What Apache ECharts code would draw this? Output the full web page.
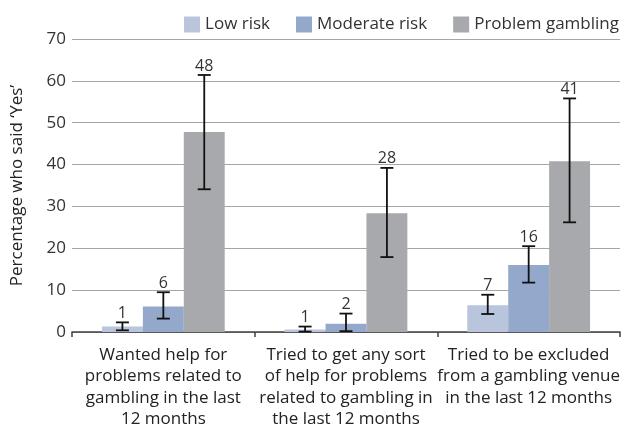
<!DOCTYPE html>
<html>
<head>
<meta charset="utf-8">
<script src="https://cdn.jsdelivr.net/npm/echarts@6/dist/echarts.min.js"></script>
<style>html,body{margin:0;padding:0;background:#fff}#c{width:630px;height:430px}</style>
</head>
<body>
<div id="c"></div>
<script>
const categories = [
  'Wanted help for\nproblems related to\ngambling in the last\n12 months',
  'Tried to get any sort\nof help for problems\nrelated to gambling in\nthe last 12 months',
  'Tried to be excluded\nfrom a gambling venue\nin the last 12 months'
];
const seriesNames = ['Low risk', 'Moderate risk', 'Problem gambling'];
const lowRisk = [1.3, 0.6, 6.4];
const moderateRisk = [6.1, 2.0, 16.0];
const problemGambling = [47.8, 28.4, 40.8];
const lowRiskErrLow = [0.4, 0.1, 4.3];
const lowRiskErrHigh = [2.3, 1.3, 8.9];
const moderateRiskErrLow = [3.2, 0.2, 11.8];
const moderateRiskErrHigh = [9.5, 4.4, 20.5];
const problemGamblingErrLow = [34.1, 17.9, 26.2];
const problemGamblingErrHigh = [61.4, 39.2, 55.8];
const lowRiskLabels = ['1', '1', '7'];
const moderateRiskLabels = ['6', '2', '16'];
const problemGamblingLabels = ['48', '28', '41'];
const yTicks = [0, 10, 20, 30, 40, 50, 60, 70];

const colors = ['#b9c5dc', '#93a8cb', '#a8a9ac'];
const FONT = 'Open Sans';
const BAR_FRAC = 0.224;

const values = [lowRisk, moderateRisk, problemGambling];
const errLows = [lowRiskErrLow, moderateRiskErrLow, problemGamblingErrLow];
const errHighs = [lowRiskErrHigh, moderateRiskErrHigh, problemGamblingErrHigh];
const labels = [lowRiskLabels, moderateRiskLabels, problemGamblingLabels];

function makeRender(si) {
  return function (params, api) {
    const ci = api.value(0);
    const lo = api.value(1);
    const hi = api.value(2);
    const v = api.value(3);
    const band = api.size([1, 0])[0];
    const bw = band * BAR_FRAC;
    const cx = api.coord([ci, 0])[0] + (si - 1) * bw;
    const yl = api.coord([ci, lo])[1];
    const yh = api.coord([ci, hi])[1];
    const yv = api.coord([ci, v])[1];
    const top = Math.min(yh, yv);
    const cap = 6.5;
    const st = { stroke: '#111', lineWidth: 1.8 };
    return {
      type: 'group',
      children: [
        { type: 'line', shape: { x1: cx, y1: yl, x2: cx, y2: yh }, style: st },
        { type: 'line', shape: { x1: cx - cap, y1: yh, x2: cx + cap, y2: yh }, style: st },
        { type: 'line', shape: { x1: cx - cap, y1: yl, x2: cx + cap, y2: yl }, style: st },
        { type: 'text', x: cx, y: top - 1, style: {
            text: labels[si][params.dataIndex], fill: '#333', font: '16px "' + FONT + '"',
            textAlign: 'center', textVerticalAlign: 'bottom' } }
      ]
    };
  };
}

const series = [];
for (let s = 0; s < 3; s++) {
  series.push({
    name: seriesNames[s], type: 'bar', data: values[s],
    barWidth: (BAR_FRAC * 100) + '%', barGap: '0%',
    itemStyle: { color: colors[s] }, emphasis: { disabled: true }
  });
}
for (let s = 0; s < 3; s++) {
  series.push({
    type: 'custom', name: seriesNames[s] + ' err',
    renderItem: makeRender(s),
    encode: { x: 0, y: [1, 2] },
    data: categories.map((c, i) => [i, errLows[s][i], errHighs[s][i], values[s][i]]),
    z: 10, silent: true
  });
}

const chart = echarts.init(document.getElementById('c'), null, { renderer: 'canvas' });
chart.setOption({
  animation: false,
  textStyle: { fontFamily: FONT },
  legend: {
    data: seriesNames, right: 6, top: 11, icon: 'rect',
    itemWidth: 16, itemHeight: 16, itemGap: 26,
    textStyle: { fontSize: 17, color: '#333', fontFamily: FONT }
  },
  grid: { left: 72, right: 10, top: 39, bottom: 97 },
  xAxis: {
    type: 'category', data: categories,
    axisLine: { lineStyle: { color: '#404040', width: 1.5 } },
    axisTick: { show: true, length: 5, lineStyle: { color: '#404040', width: 1.5 } },
    axisLabel: { interval: 0, fontSize: 17, lineHeight: 21.5, margin: 12, color: '#222', fontFamily: FONT }
  },
  yAxis: {
    type: 'value', min: 0, max: 70, interval: 10,
    name: 'Percentage who said \u2018Yes\u2019', nameLocation: 'middle', nameRotate: 90, nameGap: 46,
    nameTextStyle: { fontSize: 17, color: '#222', fontFamily: FONT },
    axisLine: { show: false }, axisTick: { show: false },
    axisLabel: { fontSize: 17, color: '#333', margin: 6, fontFamily: FONT,
      formatter: v => yTicks.includes(v) ? String(v) : '' },
    splitLine: { lineStyle: { color: '#a6a6a6', width: 1 } }
  },
  series: series
});
</script>
</body>
</html>
